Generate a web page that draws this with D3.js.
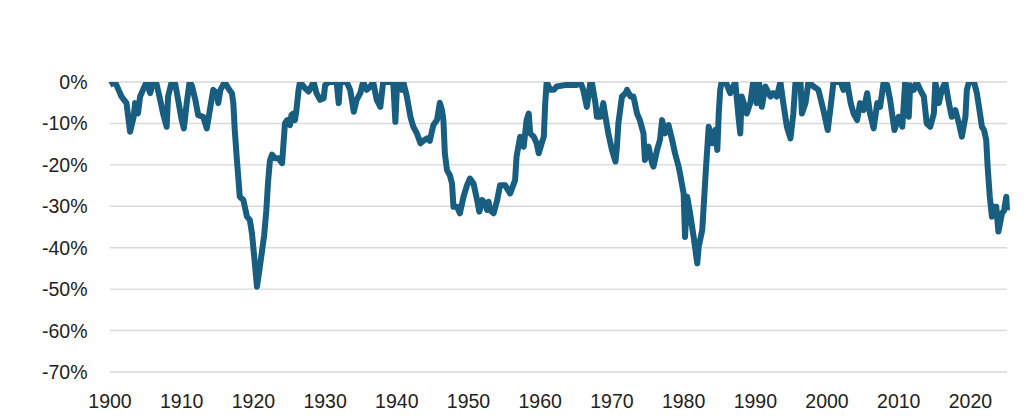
<!DOCTYPE html>
<html>
<head>
<meta charset="utf-8">
<script src="https://cdn.jsdelivr.net/npm/d3@7"></script>
<style>
  html, body { margin: 0; padding: 0; background: #ffffff; }
  svg { display: block; }
</style>
</head>
<body>
<svg id="chart" width="1024" height="418"></svg>
<script>
// ---- data ----
const years = [
  1900.0,1900.7,1901.2,1901.6,1902.3,1902.8,1903.3,1903.5,1903.9,1904.2,1904.6,1905.1,1905.6,1906.0,1906.5,
  1907.0,1907.4,1907.9,1908.1,1908.6,1909.1,1909.5,1910.0,1910.3,1910.7,1911.1,1911.4,1911.9,1912.3,1913.0,
  1913.5,1914.0,1914.4,1914.9,1915.1,1915.4,1916.0,1916.5,1917.0,1917.2,1917.4,1917.7,1918.1,1918.6,1919.1,
  1919.5,1919.8,1920.2,1920.5,1920.9,1921.5,1921.8,1922.05,1922.3,1922.6,1923.0,1923.5,1924.0,1924.4,1924.7,
  1925.1,1925.3,1925.6,1925.8,1926.0,1926.3,1926.5,1927.2,1927.7,1928.4,1928.8,1929.3,1929.8,1930.0,1930.5,
  1931.6,1931.9,1932.1,1933.0,1933.5,1934.0,1934.4,1934.9,1935.3,1935.8,1936.3,1936.7,1937.2,1937.7,1938.1,
  1939.5,1939.8,1940.0,1940.2,1940.7,1940.9,1941.4,1941.9,1942.3,1942.8,1943.3,1943.7,1944.2,1944.6,1945.1,
  1945.6,1946.0,1946.3,1946.5,1946.7,1947.0,1947.4,1947.7,1947.9,1948.4,1948.8,1949.3,1949.8,1950.2,1950.7,
  1951.2,1951.5,1951.9,1952.3,1952.6,1952.8,1953.0,1953.5,1954.0,1954.4,1955.1,1955.8,1956.5,1956.7,1957.2,
  1957.7,1958.1,1958.4,1958.6,1959.1,1959.5,1959.8,1960.2,1960.5,1960.7,1960.9,1961.4,1961.9,1962.3,1963.7,
  1965.1,1965.6,1966.0,1966.5,1967.0,1967.2,1967.7,1967.9,1968.4,1968.8,1969.1,1969.5,1970.0,1970.5,1970.7,
  1970.9,1971.4,1971.9,1972.1,1972.6,1973.0,1973.5,1973.9,1974.4,1974.6,1975.1,1975.6,1975.8,1976.3,1976.7,
  1977.0,1977.4,1977.9,1978.4,1978.8,1979.3,1979.5,1980.0,1980.2,1980.5,1980.9,1981.4,1981.9,1982.1,1982.6,
  1983.1,1983.5,1984.0,1984.4,1984.7,1984.9,1985.1,1985.3,1986.0,1986.5,1987.2,1987.7,1987.9,1988.1,1988.4,
  1988.8,1989.3,1989.7,1990.2,1990.5,1990.9,1991.4,1992.1,1992.5,1993.0,1993.5,1993.9,1994.4,1994.9,1995.3,
  1995.6,1996.3,1996.5,1997.0,1997.4,1997.9,1998.8,1999.5,2000.1,2000.5,2000.9,2001.9,2002.3,2002.8,2003.3,
  2003.7,2004.2,2004.6,2005.1,2005.6,2006.0,2006.5,2007.0,2007.4,2007.9,2008.4,2008.8,2009.4,2010.0,2010.5,
  2010.9,2011.4,2011.6,2012.1,2012.5,2013.0,2013.5,2013.9,2014.4,2014.9,2015.1,2015.6,2016.0,2016.5,2017.0,
  2017.4,2017.9,2018.4,2018.8,2019.3,2019.5,2019.8,2020.5,2020.9,2021.4,2021.6,2021.9,2022.2,2022.4,2022.7,
  2023.0,2023.2,2023.6,2023.9,2024.4,2024.7,2025.0,2025.1
];
const drawdown = [
  -0.7,0,-1.9,-3.5,-5.1,-12.0,-8.4,-5.1,-7.6,-3.5,-1.9,0,-2.7,0,-0.5,
  -4.3,-7.6,-10.8,-3.5,0,-0.5,-4.3,-9.2,-11.2,-5.1,0,-0.8,-4.3,-8.0,-8.4,
  -11.2,-6.0,-1.9,-2.7,-5.1,-1.9,0,-1.5,-2.7,-5.1,-11.6,-18.8,-27.7,-28.5,-32.5,
  -33.3,-36.5,-43.8,-49.4,-44.6,-37.0,-31.0,-24.0,-19.0,-17.5,-18.4,-18.4,-19.6,-10.0,-9.2,
  -10.4,-8.0,-7.6,-9.2,-6.8,-1.9,0,-1.5,-2.3,0,-2.7,-4.3,-3.9,-0.8,0,
  0,-5.1,0,0,-1.9,-7.2,-4.3,-2.7,0,-1.9,-1.1,0,-4.3,-6.0,0,
  0,-9.6,-1.9,0,-1.9,0,-3.5,-8.4,-10.8,-12.4,-14.8,-14.2,-13.6,-14.2,-10.4,
  -9.2,-5.0,-6.8,-9.2,-17.2,-21.3,-22.5,-24.5,-30.1,-30.1,-31.7,-27.7,-24.9,-23.3,-24.5,
  -28.5,-31.3,-28.5,-29.3,-30.9,-28.9,-30.9,-31.7,-28.5,-24.9,-24.9,-26.9,-23.7,-18.0,-13.2,
  -15.6,-9.2,-7.6,-12.4,-13.2,-14.8,-17.2,-14.8,-13.2,-5.1,0,-1.9,-1.9,-1.1,-0.7,
  -0.7,0,-1.9,-6.0,0,0,-5.1,-8.4,-8.4,-5.1,-8.4,-12.4,-16.4,-19.2,-15.6,
  -10.0,-3.5,-2.7,-1.9,-3.5,-3.5,-7.6,-9.2,-12.4,-18.8,-15.6,-19.6,-20.4,-16.4,-14.0,
  -9.2,-12.4,-10.4,-14.0,-17.2,-20.4,-22.1,-26.9,-37.4,-27.7,-31.7,-37.4,-43.8,-39.8,-35.7,
  -21.3,-10.8,-14.8,-11.6,-16.4,-7.6,-1.9,0,-0.5,-2.7,0,-9.2,-12.4,-3.5,-5.1,
  -7.6,-5.1,0,-5.1,0,-6.0,-1.1,-3.5,-2.7,-3.5,0,-5.1,-10.8,-13.6,-7.6,
  0,0,-7.6,-5.1,0,-0.8,-1.9,-6.8,-11.6,-6.0,0,0,-1.9,0,-5.1,
  -7.6,-9.2,-5.1,-6.8,-2.7,-7.6,-11.2,-5.1,-6.0,0,-0.8,-4.3,-11.6,-8.4,-10.8,
  0,-8.4,-0.8,-1.9,0,-1.9,-3.5,-10.0,-10.8,-7.6,0,-5.1,-1.9,0,-5.1,
  -8.4,-6.8,-10.0,-13.2,-8.4,-1.9,0,0,-2.7,-8.4,-10.8,-11.6,-14.0,-20.4,-27.7,
  -32.5,-30.1,-30.1,-36.1,-31.7,-31.0,-27.7,-31.0
];
const yTicks = [0, -10, -20, -30, -40, -50, -60, -70];
const xTicks = [1900, 1910, 1920, 1930, 1940, 1950, 1960, 1970, 1980, 1990, 2000, 2010, 2020];

(function () {
  const svg = d3.select("#chart");
  const plotLeft = 110, plotRight = 1007, plotTop = 82, plotBottom = 372;

  const x = d3.scaleLinear().domain([1900, 2025.1]).range([plotLeft, plotRight]);
  const y = d3.scaleLinear().domain([-70, 0]).range([plotBottom, plotTop]);

  const font = "'Liberation Sans', Arial, sans-serif";

  // gridlines
  svg.append("g").selectAll("line").data(yTicks).join("line")
    .attr("x1", plotLeft).attr("x2", plotRight)
    .attr("y1", d => y(d)).attr("y2", d => y(d))
    .attr("stroke", "#d9d9d9").attr("stroke-width", 1.4);

  // y labels
  svg.append("g").selectAll("text").data(yTicks).join("text")
    .attr("x", 87.5).attr("y", d => y(d))
    .attr("dy", "0.36em")
    .attr("text-anchor", "end")
    .attr("font-family", font).attr("font-size", 19.5)
    .attr("fill", "#222")
    .text(d => d + "%");

  // x labels
  svg.append("g").selectAll("text").data(xTicks).join("text")
    .attr("x", d => x(d)).attr("y", 408)
    .attr("text-anchor", "middle")
    .attr("font-family", font).attr("font-size", 19.5)
    .attr("fill", "#222")
    .text(d => d);

  // clip at the top of the plot (values at 0% are cut flat)
  svg.append("clipPath").attr("id", "plotclip")
    .append("rect").attr("x", 0).attr("y", plotTop).attr("width", 1024).attr("height", 418 - plotTop);

  const pts = years.map((yr, i) => [yr, drawdown[i]]);
  const line = d3.line().x(d => x(d[0])).y(d => y(d[1]));

  svg.append("path")
    .attr("clip-path", "url(#plotclip)")
    .attr("d", line(pts))
    .attr("fill", "none")
    .attr("stroke", "#175e80")
    .attr("stroke-width", 6)
    .attr("stroke-linejoin", "round")
    .attr("stroke-linecap", "butt");
})();
</script>
</body>
</html>
